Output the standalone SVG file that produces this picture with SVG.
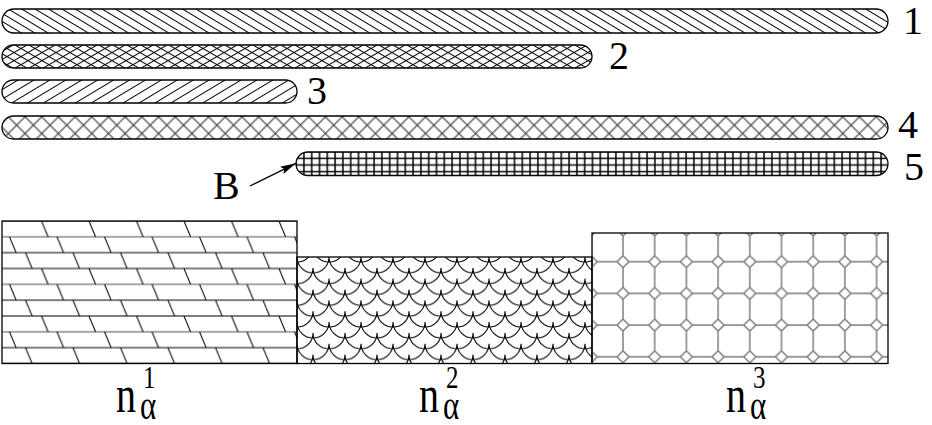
<svg xmlns="http://www.w3.org/2000/svg" width="932" height="425" viewBox="0 0 932 425">
<defs>
<style>
.lbl{font-family:"Liberation Serif","Times New Roman",serif;font-size:40px;fill:#000}
.mth{font-family:"Liberation Serif","Times New Roman",serif;fill:#000}
.outline{fill:none;stroke:#000;stroke-width:1.3}
.hl{stroke:#000;stroke-width:1}
.conn{stroke:#000;stroke-width:1.3;fill:none}
</style>
<pattern id="p1" patternUnits="userSpaceOnUse" width="30" height="6.9" patternTransform="rotate(31)">
<line class="hl" x1="0" y1="3.45" x2="30" y2="3.45"/>
</pattern>
<pattern id="p3" patternUnits="userSpaceOnUse" width="30" height="8.2" patternTransform="rotate(-31)">
<line class="hl" x1="0" y1="4.1" x2="30" y2="4.1"/>
</pattern>
<pattern id="p2a" patternUnits="userSpaceOnUse" width="30" height="7" patternTransform="rotate(30)">
<line class="hl" x1="0" y1="3.5" x2="30" y2="3.5"/>
</pattern>
<pattern id="p2b" patternUnits="userSpaceOnUse" width="30" height="7" patternTransform="rotate(-30)">
<line class="hl" x1="0" y1="3.5" x2="30" y2="3.5"/>
</pattern>
<pattern id="p4a" patternUnits="userSpaceOnUse" width="30" height="11.8" patternTransform="rotate(45)">
<line x1="0" y1="5.9" x2="30" y2="5.9" stroke="#444" stroke-width="1.2"/>
</pattern>
<pattern id="p4b" patternUnits="userSpaceOnUse" width="30" height="11.8" patternTransform="rotate(-45)">
<line x1="0" y1="5.9" x2="30" y2="5.9" stroke="#444" stroke-width="1.2"/>
</pattern>
<pattern id="p5" patternUnits="userSpaceOnUse" x="307.8" y="154.95" width="7.8" height="6.7">
<path d="M3.9,0 V6.7 M0,3.35 H7.8" stroke="#000" stroke-width="1.5" fill="none"/>
</pattern>
<pattern id="brick" patternUnits="userSpaceOnUse" x="2" y="213.08" width="47.5" height="47.5">
<path d="M0,7.92 H47.5 M0,39.58 H47.5" stroke="#000" stroke-width="1" fill="none"/>
<path d="M0,23.75 H47.5" stroke="#888" stroke-width="1.4" fill="none"/>
<path d="M39.5,7.92 L46.1,23.75 M7.5,23.75 L14.1,39.58 M23.5,39.58 L26.8,47.5 M26.8,0 L30.1,7.92" stroke="#000" stroke-width="1" fill="none"/>
</pattern>
<pattern id="scales" patternUnits="userSpaceOnUse" x="297" y="257" width="32" height="21.7">
<path d="M0,0 A16,16 0 0 0 32,0 M0,21.7 A16,16 0 0 0 32,21.7 M-16,10.85 A16,16 0 0 0 16,10.85 M16,10.85 A16,16 0 0 0 48,10.85 M-16,-10.85 A16,16 0 0 0 16,-10.85 M16,-10.85 A16,16 0 0 0 48,-10.85" stroke="#000" stroke-width="1.1" fill="none"/>
</pattern>
<pattern id="oct" patternUnits="userSpaceOnUse" x="607.15" y="245.85" width="31.7" height="31.7">
<path d="M15.85,0 V9.85 M15.85,21.85 V31.7 M0,15.85 H9.85 M21.85,15.85 H31.7 M9.85,15.85 L15.85,9.85 L21.85,15.85 L15.85,21.85 Z" stroke="#777" stroke-width="1.4" fill="none"/>
</pattern>
<marker id="ah" markerUnits="userSpaceOnUse" markerWidth="16" markerHeight="8" refX="16" refY="4" orient="auto">
<path d="M0,0 L16,4 L0,8 L3,4 Z" fill="#000"/>
</marker>
</defs>
<rect width="932" height="425" fill="#fff"/>

<g id="bar1">
<rect x="2" y="9" width="886" height="24" rx="12" fill="url(#p1)"/>
<rect class="outline" x="2" y="9" width="886" height="24" rx="12"/>
</g>
<g id="bar2">
<rect x="2" y="45" width="590" height="23" rx="11.5" fill="url(#p2a)"/>
<rect x="2" y="45" width="590" height="23" rx="11.5" fill="url(#p2b)"/>
<rect class="outline" x="2" y="45" width="590" height="23" rx="11.5"/>
</g>
<g id="bar3">
<rect x="2" y="80" width="295" height="23" rx="11.5" fill="url(#p3)"/>
<rect class="outline" x="2" y="80" width="295" height="23" rx="11.5"/>
</g>
<g id="bar4">
<rect x="2" y="116" width="886" height="23" rx="11.5" fill="url(#p4a)"/>
<rect x="2" y="116" width="886" height="23" rx="11.5" fill="url(#p4b)"/>
<rect class="outline" x="2" y="116" width="886" height="23" rx="11.5"/>
</g>
<g id="bar5">
<rect x="296" y="152" width="592" height="23.5" rx="11.75" fill="url(#p5)"/>
<rect class="outline" x="296" y="152" width="592" height="23.5" rx="11.75"/>
</g>

<g id="label1"><text class="lbl" x="903" y="34">1</text></g>
<g id="label2"><text class="lbl" x="609" y="69">2</text></g>
<g id="label3"><text class="lbl" x="307" y="104">3</text></g>
<g id="label4"><text class="lbl" x="898" y="138">4</text></g>
<g id="label5"><text class="lbl" x="904" y="180">5</text></g>
<g id="labelB"><text class="lbl" x="213" y="199">B</text></g>

<g id="connectors">
<line class="conn" x1="250" y1="186" x2="296" y2="163.3" marker-end="url(#ah)"/>
</g>

<g id="medium1">
<rect x="2" y="221" width="295" height="142.5" fill="url(#brick)"/>
<rect class="outline" x="2" y="221" width="295" height="142.5" stroke-width="1.2"/>
</g>
<g id="medium2">
<rect x="297" y="257" width="295" height="106.5" fill="url(#scales)"/>
<rect class="outline" x="297" y="257" width="295" height="106.5" stroke-width="1.2"/>
</g>
<g id="medium3">
<rect x="592" y="233" width="296" height="130.5" fill="url(#oct)"/>
<rect class="outline" x="592" y="233" width="296" height="130.5" stroke-width="1.2"/>
</g>

<g id="n1" transform="translate(116,412) scale(1,1.3)">
<text class="mth" x="0" y="0" font-size="40">n</text>
<text class="mth" x="27" y="-18.5" font-size="25">1</text>
<text class="mth" x="24" y="5.4" font-size="31">α</text>
</g>
<g id="n2" transform="translate(419,412) scale(1,1.3)">
<text class="mth" x="0" y="0" font-size="40">n</text>
<text class="mth" x="27" y="-18.5" font-size="25">2</text>
<text class="mth" x="24" y="5.4" font-size="31">α</text>
</g>
<g id="n3" transform="translate(726,412) scale(1,1.3)">
<text class="mth" x="0" y="0" font-size="40">n</text>
<text class="mth" x="27" y="-18.5" font-size="25">3</text>
<text class="mth" x="24" y="5.4" font-size="31">α</text>
</g>
</svg>
